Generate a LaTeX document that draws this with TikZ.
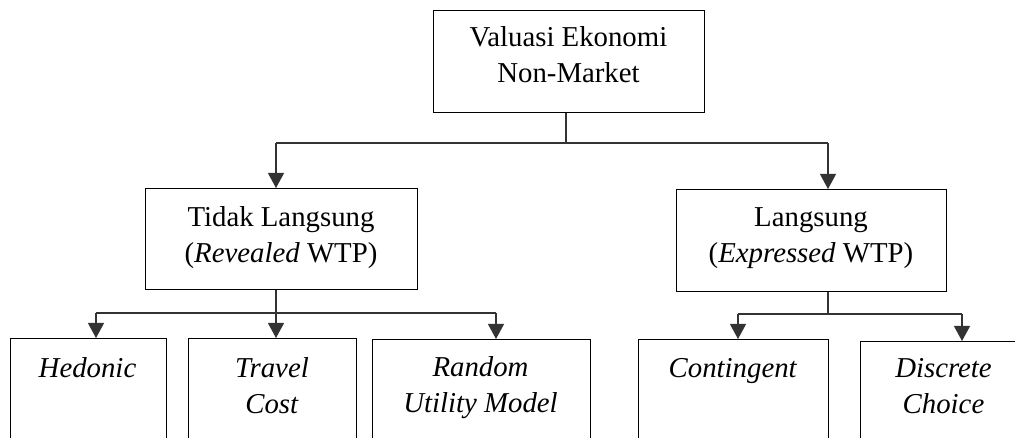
\documentclass[tikz,border=0pt]{standalone}
\usepackage{fontspec}
\setmainfont{Liberation Serif}
\usetikzlibrary{arrows.meta}
\begin{document}
\begin{tikzpicture}[x=1pt,y=-1pt,
  box/.style={draw=black, line width=1pt, inner sep=0pt, anchor=north west},
  lbl/.style={inner sep=0pt, anchor=north, align=center, font=\fontsize{28.8}{36}\selectfont},
  conn/.style={draw=black!80, line width=1.1pt},
  arr/.style={conn, -{Triangle[length=15pt,width=16pt]}}]
\useasboundingbox (0,0) rectangle (1015,438);
\clip (0,0) rectangle (1015,438);
% boxes
\node[box, minimum width=271pt, minimum height=102pt] (top) at (433,10) {};
\node[box, minimum width=272pt, minimum height=101.5pt] (tidak) at (145,188) {};
\node[box, minimum width=270pt, minimum height=102pt] (lang) at (676,189) {};
\node[box, minimum width=156pt, minimum height=130pt] (hed) at (10,338) {};
\node[box, minimum width=168pt, minimum height=130pt] (trav) at (188,338) {};
\node[box, minimum width=218pt, minimum height=130pt] (rand) at (372,339) {};
\node[box, minimum width=190pt, minimum height=130pt] (cont) at (638,339) {};
\node[box, minimum width=167pt, minimum height=130pt] (disc) at (860,341) {};
% texts
\node[lbl] (topt) at (568.5,21.5) {\strut Valuasi Ekonomi\\\strut Non-Market};
\node[lbl] (tidakt) at (281,200.8) {\strut Tidak Langsung\\\strut(\textit{Revealed} WTP)};
\node[lbl] (langt) at (811,200.8) {\strut Langsung\\\strut(\textit{Expressed} WTP)};
\node[lbl] (hedt) at (87.5,351.8) {\strut\textit{Hedonic}};
\node[lbl] (travt) at (272,351.8) {\strut\textit{Travel}\\\strut\textit{Cost}};
\node[lbl] (randt) at (480.5,350.8) {\strut\textit{Random}\\\strut\textit{Utility Model}};
\node[lbl] (contt) at (733,351.8) {\strut\textit{Contingent}};
\node[lbl] (disct) at (943.5,351.8) {\strut\textit{Discrete}\\\strut\textit{Choice}};
% junction coordinates
\coordinate (j0) at (566,143);
\coordinate (jl) at (276,143);
\coordinate (jr) at (828,143);
\coordinate (j1) at (276,313);
\coordinate (j1l) at (96,313);
\coordinate (j1r) at (496,313);
\coordinate (j2) at (828,314);
\coordinate (j2l) at (738,314);
\coordinate (j2r) at (962,314);
% connectors level 1
\draw[conn] (top.south -| j0) -- (j0);
\draw[conn] (jl) -- (jr);
\draw[arr] (jl) -- (jl |- tidak.north);
\draw[arr] (jr) -- (jr |- lang.north);
% connectors level 2 left
\draw[conn] (tidak.south -| j1) -- (j1);
\draw[conn] (j1l) -- (j1r);
\draw[arr] (j1l) -- (j1l |- hed.north);
\draw[arr] (j1) -- (j1 |- trav.north);
\draw[arr] (j1r) -- (j1r |- rand.north);
% connectors level 2 right
\draw[conn] (lang.south -| j2) -- (j2);
\draw[conn] (j2l) -- (j2r);
\draw[arr] (j2l) -- (j2l |- cont.north);
\draw[arr] (j2r) -- (j2r |- disc.north);
\end{tikzpicture}
\end{document}
